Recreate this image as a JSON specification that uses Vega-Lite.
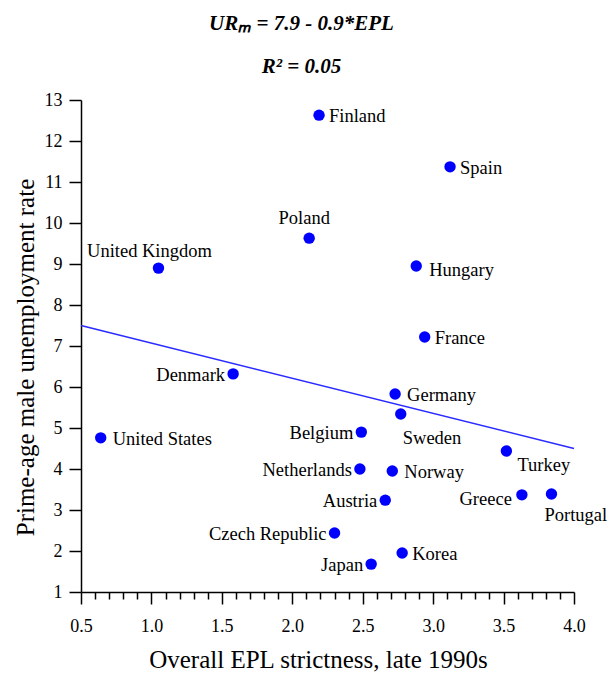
{
  "$schema": "https://vega.github.io/schema/vega-lite/v6.json",
  "width": 493,
  "height": 492,
  "autosize": "none",
  "padding": {"left": 81, "top": 100, "right": 34, "bottom": 81},
  "background": "white",
  "config": {
    "font": "Liberation Serif",
    "view": {"stroke": null},
    "axis": {"grid": false, "ticks": true, "domainColor": "#000000", "tickColor": "#000000", "tickOpacity": 1, "labelColor": "#000000", "titleColor": "#000000", "labelFont": "Liberation Serif", "titleFont": "Liberation Serif", "domainWidth": 1.5, "tickWidth": 1.5, "labelFlush": false}
  },
  "title": {
    "text": "URₘ = 7.9 - 0.9*EPL",
    "subtitle": "R² = 0.05",
    "font": "Liberation Serif",
    "fontSize": 21,
    "fontStyle": "italic",
    "fontWeight": "bold",
    "color": "black",
    "subtitleFont": "Liberation Serif",
    "subtitleFontSize": 21,
    "subtitleFontStyle": "italic",
    "subtitleFontWeight": "bold",
    "subtitleColor": "black",
    "subtitlePadding": 22,
    "anchor": "middle",
    "dx": -26,
    "offset": 14
  },
  "datasets": {
    "countries": [
      {"country": "Finland", "epl": 2.19, "ur": 12.63},
      {"country": "Spain", "epl": 3.12, "ur": 11.37},
      {"country": "Poland", "epl": 2.12, "ur": 9.63},
      {"country": "United Kingdom", "epl": 1.05, "ur": 8.9},
      {"country": "Hungary", "epl": 2.88, "ur": 8.95},
      {"country": "France", "epl": 2.94, "ur": 7.22},
      {"country": "Denmark", "epl": 1.58, "ur": 6.32},
      {"country": "Germany", "epl": 2.73, "ur": 5.83},
      {"country": "Sweden", "epl": 2.77, "ur": 5.34},
      {"country": "United States", "epl": 0.64, "ur": 4.76},
      {"country": "Belgium", "epl": 2.49, "ur": 4.9},
      {"country": "Netherlands", "epl": 2.48, "ur": 4.0},
      {"country": "Norway", "epl": 2.71, "ur": 3.95},
      {"country": "Austria", "epl": 2.66, "ur": 3.24},
      {"country": "Czech Republic", "epl": 2.3, "ur": 2.44},
      {"country": "Japan", "epl": 2.56, "ur": 1.68},
      {"country": "Korea", "epl": 2.78, "ur": 1.95},
      {"country": "Turkey", "epl": 3.52, "ur": 4.44},
      {"country": "Greece", "epl": 3.63, "ur": 3.37},
      {"country": "Portugal", "epl": 3.84, "ur": 3.39}
    ],
    "fit": [
      {"epl": 0.5, "ur": 7.5},
      {"epl": 4.0, "ur": 4.5}
    ]
  },
  "encoding": {
    "x": {"field": "epl", "type": "quantitative", "scale": {"domain": [0.5, 4.0], "nice": false, "zero": false},
      "axis": {"orient": "bottom",
        "values": [0.5,0.6,0.7,0.8,0.9,1.0,1.1,1.2,1.3,1.4,1.5,1.6,1.7,1.8,1.9,2.0,2.1,2.2,2.3,2.4,2.5,2.6,2.7,2.8,2.9,3.0,3.1,3.2,3.3,3.4,3.5,3.6,3.7,3.8,3.9,4.0],
        "tickSize": {"condition": {"test": "round(datum.value*10) % 5 == 0", "value": 12}, "value": 7},
        "labelExpr": "round(datum.value*10) % 5 == 0 ? format(datum.value, '.1f') : ''",
        "labelOverlap": false,
        "labelPadding": 13, "labelFontSize": 18,
        "title": "Overall EPL strictness, late 1990s", "titleFontSize": 25, "titleFontWeight": "normal", "titleX": 237, "titleY": 75, "titleBaseline": "alphabetic", "titleAnchor": null}},
    "y": {"field": "ur", "type": "quantitative", "scale": {"domain": [1, 13], "nice": false, "zero": false},
      "axis": {"orient": "left", "values": [1,2,3,4,5,6,7,8,9,10,11,12,13], "tickSize": 12, "labelPadding": 7, "labelFontSize": 18, "title": "Prime-age male unemployment rate", "titleFontSize": 25, "titleFontWeight": "normal", "titleX": -48, "titleY": 257, "titleBaseline": "alphabetic", "titleAngle": -90}}
  },
  "layer": [
    {
      "data": {"name": "fit"},
      "mark": {"type": "line", "color": "#2a2aff", "strokeWidth": 1.5}
    },
    {
      "data": {"name": "countries"},
      "layer": [
        {"mark": {"type": "circle", "color": "#0000ff", "opacity": 1, "size": 130}},
        {
          "transform": [{"filter": {"field": "country", "oneOf": ["Finland", "Spain", "France", "Korea"]}}],
          "mark": {"type": "text", "align": "left", "baseline": "middle", "dx": 10, "dy": 1, "fontSize": 18.5, "color": "black"},
          "encoding": {"text": {"field": "country"}}
        },
        {
          "transform": [{"filter": {"field": "country", "oneOf": ["United States", "Norway", "Germany"]}}],
          "mark": {"type": "text", "align": "left", "baseline": "middle", "dx": 12, "dy": 1, "fontSize": 18.5, "color": "black"},
          "encoding": {"text": {"field": "country"}}
        },
        {
          "transform": [{"filter": {"field": "country", "oneOf": ["Hungary"]}}],
          "mark": {"type": "text", "align": "left", "baseline": "middle", "dx": 13, "dy": 4, "fontSize": 18.5, "color": "black"},
          "encoding": {"text": {"field": "country"}}
        },
        {
          "transform": [{"filter": {"field": "country", "oneOf": ["Denmark", "Belgium", "Netherlands", "Austria", "Czech Republic", "Japan"]}}],
          "mark": {"type": "text", "align": "right", "baseline": "middle", "dx": -8, "dy": 1, "fontSize": 18.5, "color": "black"},
          "encoding": {"text": {"field": "country"}}
        },
        {
          "transform": [{"filter": {"field": "country", "oneOf": ["Greece"]}}],
          "mark": {"type": "text", "align": "right", "baseline": "middle", "dx": -10, "dy": 4, "fontSize": 18.5, "color": "black"},
          "encoding": {"text": {"field": "country"}}
        },
        {
          "transform": [{"filter": {"field": "country", "oneOf": ["United Kingdom"]}}],
          "mark": {"type": "text", "align": "center", "baseline": "middle", "dx": -9, "dy": -17, "fontSize": 18.5, "color": "black"},
          "encoding": {"text": {"field": "country"}}
        },
        {
          "transform": [{"filter": {"field": "country", "oneOf": ["Poland"]}}],
          "mark": {"type": "text", "align": "center", "baseline": "middle", "dx": -5, "dy": -20, "fontSize": 18.5, "color": "black"},
          "encoding": {"text": {"field": "country"}}
        },
        {
          "transform": [{"filter": {"field": "country", "oneOf": ["Sweden"]}}],
          "mark": {"type": "text", "align": "left", "baseline": "middle", "dx": 2, "dy": 24, "fontSize": 18.5, "color": "black"},
          "encoding": {"text": {"field": "country"}}
        },
        {
          "transform": [{"filter": {"field": "country", "oneOf": ["Turkey"]}}],
          "mark": {"type": "text", "align": "left", "baseline": "middle", "dx": 11, "dy": 14, "fontSize": 18.5, "color": "black"},
          "encoding": {"text": {"field": "country"}}
        },
        {
          "transform": [{"filter": {"field": "country", "oneOf": ["Portugal"]}}],
          "mark": {"type": "text", "align": "left", "baseline": "middle", "dx": -7, "dy": 21, "fontSize": 18.5, "color": "black"},
          "encoding": {"text": {"field": "country"}}
        }
      ]
    }
  ]
}
